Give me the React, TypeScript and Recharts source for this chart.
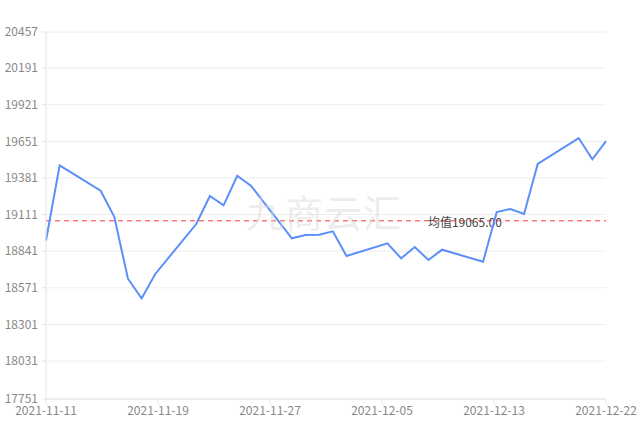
import React from 'react'
import { LineChart, Line, XAxis, YAxis, CartesianGrid, ReferenceLine } from 'recharts'

const dates = [
  '2021-11-11', '2021-11-12', '2021-11-15', '2021-11-16', '2021-11-17', '2021-11-18', '2021-11-19',
  '2021-11-22', '2021-11-23', '2021-11-24', '2021-11-25', '2021-11-26',
  '2021-11-29', '2021-11-30', '2021-12-01', '2021-12-02', '2021-12-03',
  '2021-12-06', '2021-12-07', '2021-12-08', '2021-12-09', '2021-12-10',
  '2021-12-13', '2021-12-14', '2021-12-15', '2021-12-16', '2021-12-17',
  '2021-12-20', '2021-12-21', '2021-12-22',
]
const prices = [
  18920, 19474, 19287, 19095, 18638, 18493, 18673,
  19041, 19248, 19179, 19397, 19324,
  18936, 18960, 18962, 18987, 18805,
  18899, 18788, 18872, 18776, 18852,
  18763, 19130, 19152, 19115, 19484,
  19675, 19518, 19653,
]
const average = 19065
const xTickLabels = ['2021-11-11', '2021-11-19', '2021-11-27', '2021-12-05', '2021-12-13', '2021-12-22']
const yTicks = [17751, 18031, 18301, 18571, 18841, 19111, 19381, 19651, 19921, 20191, 20457]

const DAY = 86400000
const start = Date.parse(dates[0])
const data = dates.map((d, i) => ({ day: (Date.parse(d) - start) / DAY, value: prices[i] }))
const lastDay = data[data.length - 1].day
const xTicks = xTickLabels.map((_, i) => (i * lastDay) / (xTickLabels.length - 1))

const font = "'Noto Sans CJK SC', 'Noto Sans', sans-serif"

const AvgLabel = (props: any) => {
  const vb = props.viewBox || {}
  return (
    <text x={vb.x + vb.width * 0.748} y={vb.y + 6} textAnchor="middle" fontSize={12} fill="#444" fontFamily={font}>
      {'均值' + average.toFixed(2)}
    </text>
  )
}

export default function App() {
  return (
    <div style={{ position: 'absolute', left: 0, top: 0, width: 641, height: 423, background: '#fff' }}>
      <LineChart width={641} height={423} data={data} margin={{ top: 32, right: 35, left: 0, bottom: 0 }}>
        <CartesianGrid vertical={false} stroke="#eeeeee" />
        <XAxis
          dataKey="day"
          type="number"
          domain={[0, lastDay]}
          ticks={xTicks}
          tickFormatter={(v: number) => xTickLabels[xTicks.indexOf(v)] ?? ''}
          height={24}
          tickSize={5}
          tickMargin={2}
          stroke="#e3e3e3"
          tick={{ fill: '#888', fontSize: 12, fontFamily: font }}
          interval={0}
        />
        <YAxis
          type="number"
          domain={[17751, 20457]}
          ticks={yTicks}
          width={46}
          tickSize={4}
          tickMargin={4}
          stroke="#e3e3e3"
          tick={{ fill: '#888', fontSize: 12, fontFamily: font }}
          interval={0}
        />
        <ReferenceLine y={average} stroke="#f77" strokeDasharray="5 4" strokeWidth={1.5} label={<AvgLabel />} />
        <Line
          type="linear"
          dataKey="value"
          stroke="#5b8ff9"
          strokeWidth={2}
          dot={false}
          isAnimationActive={false}
        />
      </LineChart>
      <div
        style={{
          position: 'absolute',
          left: 246,
          top: 187,
          fontSize: 38,
          fontFamily: font,
          color: 'rgba(215,215,215,0.45)',
          pointerEvents: 'none',
          letterSpacing: 1,
          lineHeight: '48px',
        }}
      >
        九商云汇
      </div>
    </div>
  )
}
